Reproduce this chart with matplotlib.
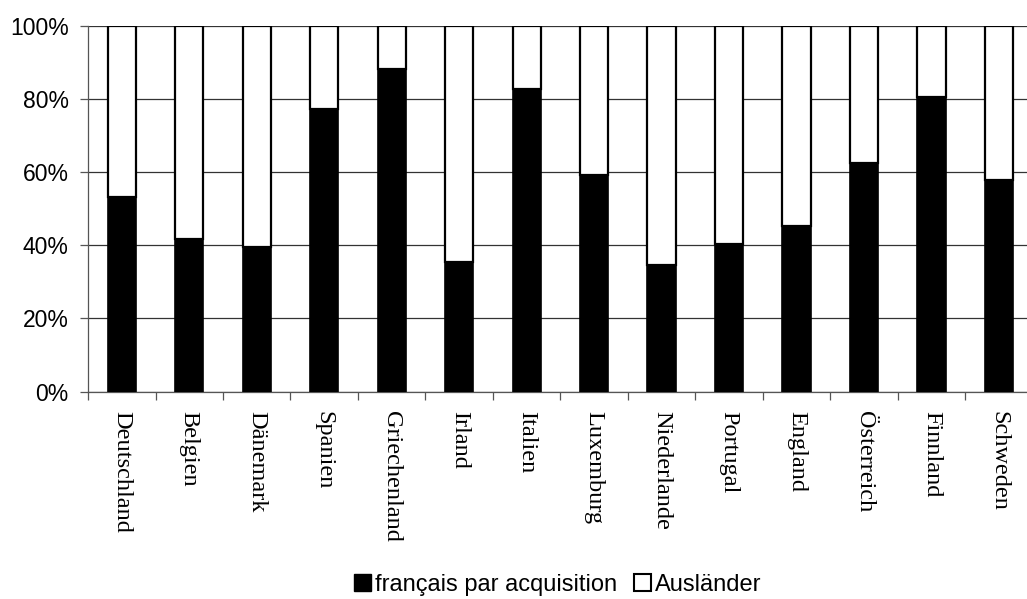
import numpy as np
import matplotlib
matplotlib.use("Agg")
import matplotlib.pyplot as plt
from matplotlib.patches import Patch

# Anteil der Einbürgerungen (français par acquisition) vs. Ausländer, in %
laender = ['Deutschland', 'Belgien', 'Dänemark', 'Spanien', 'Griechenland',
           'Irland', 'Italien', 'Luxemburg', 'Niederlande', 'Portugal',
           'England', 'Österreich', 'Finnland', 'Schweden']
acquisition = [53.2, 41.6, 39.5, 77.1, 88.0, 35.3, 82.6,
               59.2, 34.6, 40.2, 45.3, 62.5, 80.4, 57.7]
auslaender = [100 - v for v in acquisition]

fig = plt.figure(figsize=(10.27, 5.99), dpi=100)
# Diagramm ist rechts leicht abgeschnitten wie im Original
ax = fig.add_axes([0.0857, 0.3464, 0.92, 0.611])

x = np.arange(len(laender))
ax.bar(x, acquisition, width=0.42, color='black', edgecolor='black',
       linewidth=1.2, zorder=3)
ax.bar(x, auslaender, width=0.42, bottom=acquisition, color='white',
       edgecolor='black', linewidth=1.6, zorder=3)

ax.set_xlim(-0.5, len(laender) - 0.5)
ax.set_ylim(0, 100)
ax.set_yticks(np.arange(0, 101, 20))
ax.set_yticklabels([f'{v}%' for v in range(0, 101, 20)],
                   fontfamily='Liberation Sans', fontsize=16.5)
ax.yaxis.grid(True, color='#333333', linewidth=0.9, zorder=0)
ax.tick_params(axis='y', length=6, width=0.9, color='#555555', pad=8)

ax.set_xticks(x)
ax.set_xticklabels(laender, rotation=270, fontfamily='Liberation Serif',
                   fontsize=17.5, ha='center', va='top')
ax.set_xticks(np.arange(-0.5, len(laender), 1), minor=True)
ax.tick_params(axis='x', which='major', length=0, pad=14)
ax.tick_params(axis='x', which='minor', length=6, width=0.9, color='#555555')

for s in ['top', 'right']:
    ax.spines[s].set_visible(False)
ax.spines['left'].set_color('#555555')
ax.spines['bottom'].set_color('#555555')
ax.spines['left'].set_linewidth(0.9)
ax.spines['bottom'].set_linewidth(0.9)

handles = [Patch(facecolor='black', edgecolor='black', linewidth=1.0),
           Patch(facecolor='white', edgecolor='black', linewidth=1.5)]
fig.legend(handles, ['français par acquisition', 'Ausländer'],
           loc='center', bbox_to_anchor=(0.543, 0.024), ncol=2, frameon=False,
           prop={'family': 'Liberation Sans', 'size': 17},
           handlelength=0.72, handleheight=0.72, handletextpad=0.17,
           columnspacing=0.68, borderaxespad=0)

fig.savefig('out.png', dpi=100)
